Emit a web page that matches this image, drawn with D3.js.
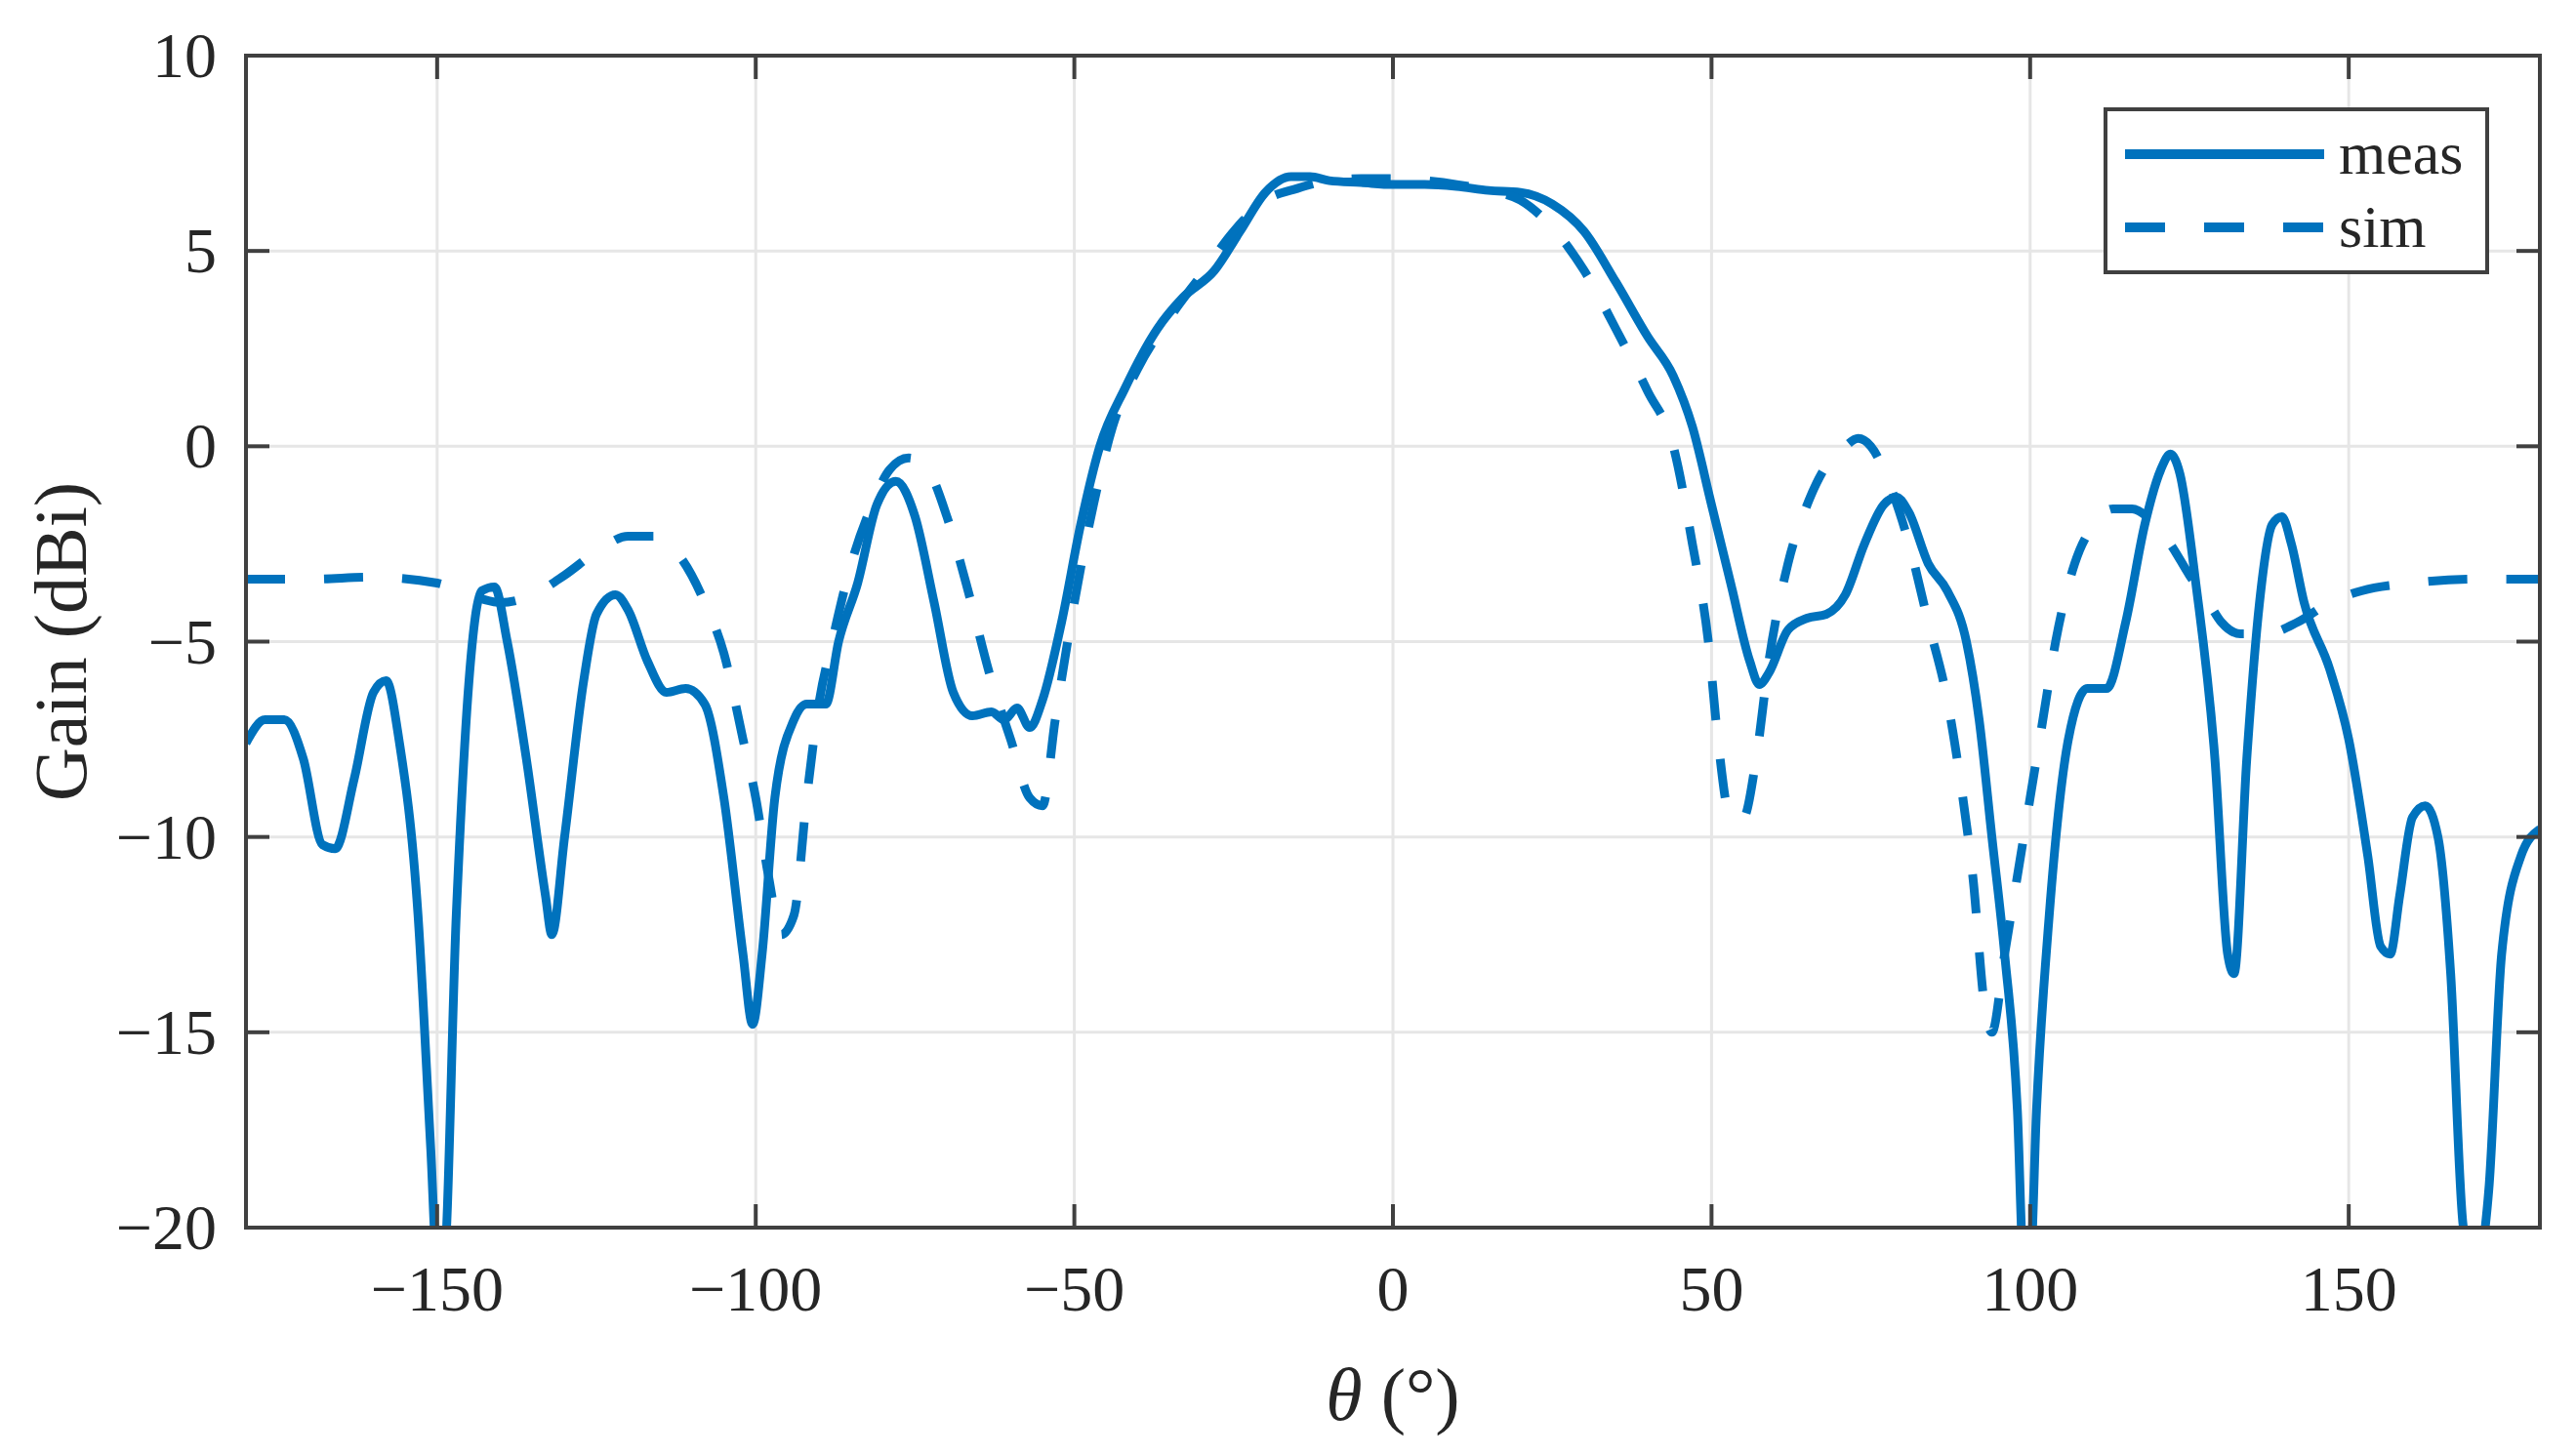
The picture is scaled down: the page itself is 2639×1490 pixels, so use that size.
<!DOCTYPE html>
<html>
<head>
<meta charset="utf-8">
<script src="https://cdn.jsdelivr.net/npm/d3@7"></script>
<style>
  body { margin: 0; background: #fff; }
  text { font-family: "Liberation Serif", "DejaVu Serif", serif; fill: #262626; }
</style>
</head>
<body>
<svg id="chart" width="2639" height="1490"></svg>
<script>
// measured pattern (theta deg, gain dBi)
var measTheta = [-180,-177,-174,-171,-168,-166,-163,-160,-158,-156,-153,-151,-150,-149,-147,-145,-143,-141,-139,-136,-133,-132,-130,-127,-125,-122,-120,-117,-114,-111,-108,-105,-102,-100.5,-99,-97,-94,-92,-89,-87,-84,-81,-78,-75,-72,-69,-66,-63,-61,-59,-57,-55,-52,-49,-46,-42,-37,-33,-28,-24,-20,-16,-13,-10,-5,0,5,10,15,20,25,30,35,40,44,47,50,53,56,57.5,59,62,65,68,71,74,77,79,81,84,87,90,92,94,96,98,99,100,101,103,106,109,112,115,118,120.5,122,123.5,126,129,131,132,134,136,138,139.5,141,143,147,150,153,155,156.5,158,160,162,164,166,168,170,172,174,177,180];
var measGain = [-7.6,-7.0,-7.0,-8.0,-10.2,-10.3,-8.5,-6.3,-6.0,-7.5,-12,-18,-21,-21,-12,-6,-3.7,-3.6,-5,-8,-11.5,-12.5,-10,-6,-4.3,-3.8,-4.2,-5.5,-6.3,-6.2,-6.6,-9,-13,-14.8,-13,-9,-7,-6.6,-6.6,-5,-3.5,-1.5,-0.9,-1.8,-4,-6.3,-6.9,-6.8,-7.0,-6.7,-7.2,-6.5,-4.5,-2,0,1.5,3,3.8,4.5,5.5,6.5,6.9,6.9,6.8,6.75,6.7,6.7,6.65,6.55,6.5,6.2,5.5,4.2,2.8,1.8,0.5,-1.5,-3.5,-5.5,-6.1,-5.8,-4.7,-4.4,-4.3,-3.8,-2.5,-1.5,-1.3,-1.7,-3,-3.7,-5,-7,-10,-13,-17,-21,-21,-17,-12,-7.5,-6.2,-6.2,-4.5,-2,-0.6,-0.2,-0.7,-3.5,-8,-13,-13.5,-8,-4,-2,-1.8,-2.5,-4,-5.7,-7.5,-10.5,-12.8,-13,-11.5,-9.5,-9.2,-10,-13.5,-20,-21,-19,-13,-10.5,-9.8];

// simulated pattern
var simTheta = [-180,-170,-160,-150,-145,-140,-135,-130,-125,-120,-116,-112,-108,-105,-102,-100,-98,-96,-94,-92,-90,-88,-85,-82,-79,-76,-73,-70,-67,-63,-60,-57,-55,-53,-50,-47,-44,-40,-35,-30,-25,-20,-15,-10,-5,0,5,10,15,20,25,30,35,40,44,47,49.5,51,53,55,57,59,62,65,68,71,73,75,78,81,84,87,89,91,93,94,96,98,100,102,104,107,110,113,116,119,122,125,128,130,133,137,142,147,152,160,170,180];
var simGain = [-3.4,-3.4,-3.35,-3.5,-3.8,-4.0,-3.8,-3.3,-2.7,-2.3,-2.3,-2.8,-4.0,-5.3,-7.5,-9,-11,-12.5,-12,-9,-6.5,-5,-3,-1.6,-0.6,-0.3,-0.6,-1.8,-3.5,-6,-7.5,-9,-9.2,-7,-4,-1.5,0.5,2.0,3.3,4.4,5.5,6.3,6.6,6.8,6.85,6.85,6.8,6.7,6.55,6.3,5.6,4.5,3.0,1.4,0,-2.5,-5,-7.5,-9.5,-9.5,-8,-5.5,-3,-1.5,-0.5,0,0.2,0,-1,-2.5,-4.5,-6.5,-8.5,-11,-14.5,-15,-13,-11,-9,-7,-5,-3,-2,-1.6,-1.6,-1.9,-2.5,-3.3,-4,-4.5,-4.8,-4.8,-4.5,-4,-3.7,-3.5,-3.4,-3.4];

var xTicks = [-150,-100,-50,0,50,100,150];
var yTicks = [-20,-15,-10,-5,0,5,10];
var seriesNames = ["meas", "sim"];

var pLeft = 252, pRight = 2602, pTop = 57, pBottom = 1258;
var blue = "#0072BD", axisCol = "#404040";

var svg = d3.select("#chart");
var x = d3.scaleLinear().domain([-180, 180]).range([pLeft, pRight]);
var y = d3.scaleLinear().domain([-20, 10]).range([pBottom, pTop]);
var fmt = function (d) { return d < 0 ? "\u2212" + Math.abs(d) : "" + d; };

// grid
svg.append("g").selectAll("line").data(xTicks).enter().append("line")
  .attr("x1", function (d) { return x(d); }).attr("x2", function (d) { return x(d); })
  .attr("y1", pTop).attr("y2", pBottom).attr("stroke", "#e6e6e6").attr("stroke-width", 3);
svg.append("g").selectAll("line").data(yTicks).enter().append("line")
  .attr("y1", function (d) { return y(d); }).attr("y2", function (d) { return y(d); })
  .attr("x1", pLeft).attr("x2", pRight).attr("stroke", "#e6e6e6").attr("stroke-width", 3);

// curves
svg.append("clipPath").attr("id", "clip").append("rect")
  .attr("x", pLeft).attr("y", pTop).attr("width", pRight - pLeft).attr("height", pBottom - pTop);

var line = d3.line().x(function (d) { return x(d[0]); }).y(function (d) { return y(d[1]); })
  .curve(d3.curveMonotoneX);
var plot = svg.append("g").attr("clip-path", "url(#clip)");
plot.append("path").datum(d3.zip(measTheta, measGain)).attr("d", line)
  .attr("fill", "none").attr("stroke", blue).attr("stroke-width", 9).attr("stroke-linejoin", "round");
plot.append("path").datum(d3.zip(simTheta, simGain)).attr("d", line)
  .attr("fill", "none").attr("stroke", blue).attr("stroke-width", 9).attr("stroke-dasharray", "40,40");

// axes box and ticks
svg.append("rect").attr("x", pLeft).attr("y", pTop).attr("width", pRight - pLeft).attr("height", pBottom - pTop)
  .attr("fill", "none").attr("stroke", axisCol).attr("stroke-width", 4);
var tk = svg.append("g").attr("stroke", axisCol).attr("stroke-width", 4);
xTicks.forEach(function (d) {
  tk.append("line").attr("x1", x(d)).attr("x2", x(d)).attr("y1", pBottom).attr("y2", pBottom - 24);
  tk.append("line").attr("x1", x(d)).attr("x2", x(d)).attr("y1", pTop).attr("y2", pTop + 24);
});
yTicks.forEach(function (d) {
  tk.append("line").attr("y1", y(d)).attr("y2", y(d)).attr("x1", pLeft).attr("x2", pLeft + 24);
  tk.append("line").attr("y1", y(d)).attr("y2", y(d)).attr("x1", pRight).attr("x2", pRight - 24);
});

svg.append("g").selectAll("text").data(xTicks).enter().append("text")
  .attr("x", function (d) { return x(d); }).attr("y", pBottom + 85)
  .attr("text-anchor", "middle").attr("font-size", 66).text(fmt);
svg.append("g").selectAll("text").data(yTicks).enter().append("text")
  .attr("x", pLeft - 30).attr("y", function (d) { return y(d) + 22; })
  .attr("text-anchor", "end").attr("font-size", 66).text(fmt);

// axis labels
var xl = svg.append("text").attr("x", (pLeft + pRight) / 2).attr("y", 1455)
  .attr("text-anchor", "middle").attr("font-size", 76);
xl.append("tspan").attr("font-style", "italic").text("\u03b8");
xl.append("tspan").text(" (\u00b0)");
svg.append("text").attr("transform", "translate(88," + (pTop + pBottom) / 2 + ") rotate(-90)")
  .attr("text-anchor", "middle").attr("font-size", 76).text("Gain (dBi)");

// legend
var lg = svg.append("g");
lg.append("rect").attr("x", 2157).attr("y", 112).attr("width", 391).attr("height", 167)
  .attr("fill", "#fff").attr("stroke", axisCol).attr("stroke-width", 4);
seriesNames.forEach(function (name, i) {
  var ly = 158 + i * 75;
  lg.append("line").attr("x1", 2177).attr("x2", 2381).attr("y1", ly).attr("y2", ly)
    .attr("stroke", blue).attr("stroke-width", 10)
    .attr("stroke-dasharray", i === 1 ? "41,40" : null);
  lg.append("text").attr("x", 2396).attr("y", ly + 20).attr("font-size", 62).text(name);
});
</script>
</body>
</html>
